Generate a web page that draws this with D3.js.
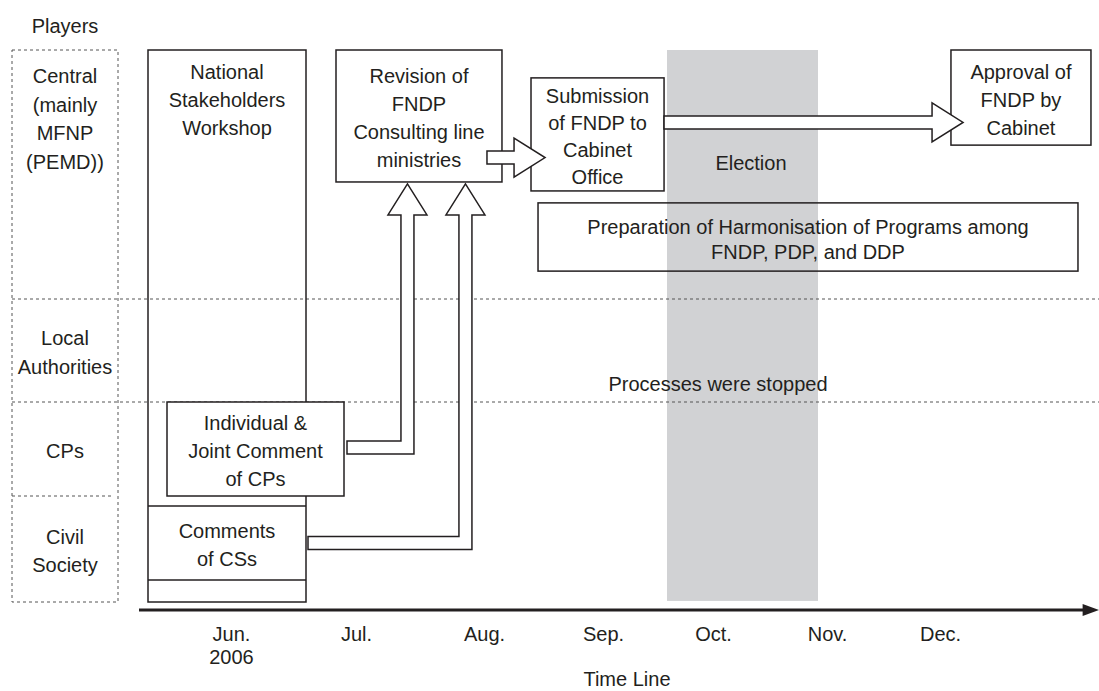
<!DOCTYPE html>
<html>
<head>
<meta charset="utf-8">
<script src="https://cdn.jsdelivr.net/npm/d3@7/dist/d3.min.js"></script>
<style>
  body { margin: 0; background: #fff; }
  svg text { font-family: "Liberation Sans", Arial, Helvetica, sans-serif; fill: #231f20; }
</style>
</head>
<body>
<div id="chart"></div>
<script>
// Time line: month index 0 = Jun. 2006
const months = ["Jun.", "Jul.", "Aug.", "Sep.", "Oct.", "Nov.", "Dec."];
const yearLabel = "2006";
const axisTitle = "Time Line";
const playersTitle = "Players";

// lanes (rows) of the diagram
const players = [
    ["Central", "(mainly", "MFNP", "(PEMD))"],
    ["Local", "Authorities"],
    ["CPs"],
    ["Civil", "Society"]
];

// activities: start/end in months, top/bottom in lane units
const activityNames = ["workshop", "revision", "submission", "approval", "harmonisation", "cpComment"];
const activityLabels = [
    ["National", "Stakeholders", "Workshop"],
    ["Revision of", "FNDP", "Consulting line", "ministries"],
    ["Submission", "of FNDP to", "Cabinet", "Office"],
    ["Approval of", "FNDP by", "Cabinet"],
    ["Preparation of Harmonisation of Programs among", "FNDP, PDP, and DDP"],
    ["Individual &", "Joint Comment", "of CPs"]
];
const activityStart = [-0.664, 0.84, 2.395, 6.097, 2.454, -0.512];
const activityEnd = [0.6, 2.151, 3.555, 7.336, 7.221, 0.904];
const activityTop = [0, 0, 0.112, 0, 0.614, 2];
const activityBottom = [4, 0.53, 0.566, 0.382, 0.888, 3];

// sub-rows inside the workshop column (civil society comments)
const csLabel = ["Comments", "of CSs"];
const csTop = 3.094, csBottom = 3.792;

// election period
const electionLabel = "Election";
const electionStart = 3.582, electionEnd = 4.921;
const stoppedLabel = "Processes were stopped";

// flows: straight arrows (month from -> month to, lane)
const flowFrom = [2.025, 3.555];
const flowTo = [2.513, 6.204];
const flowLane = [0.432, 0.291];

// flows: comments going up to revision (start month, riser month, lane)
const feedFrom = [0.928, 0.616];
const feedRiser = [1.402, 1.855];
const feedLane = [2.484, 3.443];
const feedTip = 0.538;

const W = 1099, H = 691;
const ink = "#231f20";
const fs = 20;

const x = d3.scaleLinear().domain(d3.range(7)).range([231, 356, 484, 603, 713, 827, 940]);
const y = d3.scaleLinear().domain([0, 1, 2, 3, 4]).range([50, 299, 402, 496, 602]);
const playerCol = { x0: 12, x1: 118 };
const axisY = 610;

const svg = d3.select("#chart").append("svg")
    .attr("width", W)
    .attr("height", H);

// election band
svg.append("rect")
    .attr("x", x(electionStart))
    .attr("y", y(0))
    .attr("width", x(electionEnd) - x(electionStart))
    .attr("height", y(3.99) - y(0))
    .attr("fill", "#d1d2d4");

// dashed lane separators
svg.append("rect")
    .attr("x", playerCol.x0).attr("y", y(0))
    .attr("width", playerCol.x1 - playerCol.x0)
    .attr("height", y(4) - y(0))
    .attr("fill", "none").attr("stroke", "#555")
    .attr("stroke-width", 1).attr("stroke-dasharray", "3,3");

[1, 2].forEach(function(l) {
    svg.append("line")
        .attr("x1", playerCol.x0).attr("x2", W)
        .attr("y1", y(l)).attr("y2", y(l))
        .attr("stroke", "#555").attr("stroke-width", 1).attr("stroke-dasharray", "3,3");
});
svg.append("line")
    .attr("x1", playerCol.x0).attr("x2", playerCol.x1 - 6)
    .attr("y1", y(3)).attr("y2", y(3))
    .attr("stroke", "#555").attr("stroke-width", 1).attr("stroke-dasharray", "3,3");

// multi-line text helper; pos = vertical centre of the block (or first baseline when top=true)
function label(cx, pos, lines, lh, top) {
    var first = top ? pos : pos - (lines.length - 1) * lh / 2 + fs * 0.36;
    var t = svg.append("text")
        .attr("text-anchor", "middle")
        .style("font-size", fs + "px");
    lines.forEach(function(s, i) {
        t.append("tspan").attr("x", cx).attr("y", first + i * lh).text(s);
    });
    return t;
}

// activity boxes
activityNames.forEach(function(name, i) {
    var x0 = x(activityStart[i]), x1 = x(activityEnd[i]);
    var y0 = y(activityTop[i]), y1 = y(activityBottom[i]);
    var filled = !(name === "workshop" || name === "harmonisation");
    svg.append("rect")
        .attr("class", "box " + name)
        .attr("x", x0).attr("y", y0)
        .attr("width", x1 - x0).attr("height", y1 - y0)
        .attr("fill", filled ? "#fff" : "none")
        .attr("stroke", ink).attr("stroke-width", 1.5);
    if (name === "workshop") {
        [csTop, csBottom].forEach(function(l) {
            svg.append("line")
                .attr("x1", x0).attr("x2", x1)
                .attr("y1", y(l)).attr("y2", y(l))
                .attr("stroke", ink).attr("stroke-width", 1.5);
        });
    }
});

// straight arrows
var sh = 6.5, hh = 19.5, hl = 31;
flowFrom.forEach(function(f, i) {
    var x0 = x(f), x1 = x(flowTo[i]), yc = y(flowLane[i]);
    var pts = [[x0, yc - sh], [x1 - hl, yc - sh], [x1 - hl, yc - hh], [x1, yc],
               [x1 - hl, yc + hh], [x1 - hl, yc + sh], [x0, yc + sh]];
    svg.append("path")
        .attr("d", d3.line()(pts) + "Z")
        .attr("fill", "#fff").attr("stroke", ink).attr("stroke-width", 1.5);
});

// L-shaped arrows from comments to revision
feedFrom.forEach(function(f, i) {
    var xs = x(f), xc = x(feedRiser[i]), yc = y(feedLane[i]);
    var yt = y(feedTip), yb = yt + hl;
    var pts = [[xs, yc - sh], [xc - sh, yc - sh], [xc - sh, yb], [xc - hh, yb], [xc, yt],
               [xc + hh, yb], [xc + sh, yb], [xc + sh, yc + sh], [xs, yc + sh]];
    svg.append("path")
        .attr("d", d3.line()(pts) + "Z")
        .attr("fill", "#fff").attr("stroke", ink).attr("stroke-width", 1.5);
});

// texts in boxes
activityNames.forEach(function(name, i) {
    var cx = (x(activityStart[i]) + x(activityEnd[i])) / 2;
    if (name === "workshop") {
        label(cx, 79, activityLabels[i], 28, true);
    } else {
        var lh = name === "harmonisation" ? 25 : (name === "submission" ? 27 : 28);
        label(cx, (y(activityTop[i]) + y(activityBottom[i])) / 2 + 2, activityLabels[i], lh, false);
    }
});
label((x(activityStart[0]) + x(activityEnd[0])) / 2, (y(csTop) + y(csBottom)) / 2 + 2, csLabel, 28, false);

label(x(4.333), 170, [electionLabel], 28, true);
label(x(4.044), 391, [stoppedLabel], 28, true);

// players column
var pcx = (playerCol.x0 + playerCol.x1) / 2;
label(pcx, 33, [playersTitle], 28, true);
players.forEach(function(lines, i) {
    if (i === 0) label(pcx, 83, lines, 28.5, true);
    else label(pcx, (y(i) + y(i + 1)) / 2 + 2, lines, 28.5, false);
});

// time axis
var xAxis = d3.axisBottom(x)
    .tickValues(d3.range(months.length))
    .tickFormat(function(d) { return months[d]; })
    .tickSize(0)
    .tickPadding(17);

var gx = svg.append("g")
    .attr("transform", "translate(0," + axisY + ")")
    .call(xAxis);
gx.select(".domain").remove();
gx.selectAll("text")
    .attr("font-family", null)
    .style("font-size", fs + "px")
    .style("fill", ink);
gx.select(".tick text")
    .append("tspan")
    .attr("x", 0)
    .attr("dy", "1.15em")
    .text(yearLabel);

svg.append("line")
    .attr("x1", x(-0.736)).attr("x2", x(7.28))
    .attr("y1", axisY).attr("y2", axisY)
    .attr("stroke", ink).attr("stroke-width", 3);
svg.append("path")
    .attr("d", d3.line()([[x(7.28) - 2, axisY - 6], [W, axisY], [x(7.28) - 2, axisY + 6]]) + "Z")
    .attr("fill", ink);

svg.append("text")
    .attr("x", x(3.218))
    .attr("y", 686)
    .attr("text-anchor", "middle")
    .style("font-size", fs + "px")
    .text(axisTitle);
</script>
</body>
</html>
